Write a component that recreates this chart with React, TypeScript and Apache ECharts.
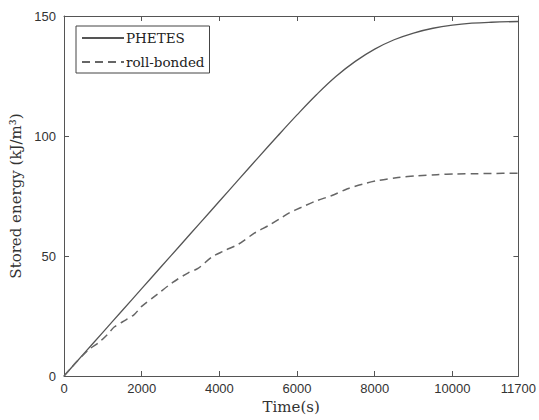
import React, { useEffect, useRef } from "react";
import * as echarts from "echarts";

const xTicks = [0, 2000, 4000, 6000, 8000, 10000, 11700];
const yTicks = [0, 50, 100, 150];

const phetesTime = [0, 500, 1000, 1500, 2000, 2500, 3000, 3500, 4000, 4500, 5000, 5500, 6000, 6500, 7000, 7500, 8000, 8500, 9000, 9500, 10000, 10500, 11000, 11700];
const phetesEnergy = [0, 9.1, 18.2, 27.3, 36.4, 45.5, 54.6, 63.7, 72.8, 81.9, 91, 100, 108.8, 117.2, 124.8, 131.1, 136.2, 140.1, 142.9, 144.9, 146.2, 147, 147.4, 147.7];

const rollTime = [0, 300, 640, 900, 1100, 1300, 1500, 1800, 2000, 2400, 2800, 3200, 3450, 3800, 4100, 4500, 4900, 5300, 5600, 5800, 6100, 6500, 6900, 7300, 7700, 8100, 8600, 9100, 9600, 10100, 10600, 11000, 11700];
const rollEnergy = [0, 5.5, 11, 14, 17, 20.5, 22.5, 25.5, 29, 34, 39, 43, 44.8, 49.5, 52, 55, 59.5, 63, 66, 68, 70.2, 73, 75.2, 78, 80, 81.5, 82.7, 83.4, 83.9, 84.2, 84.3, 84.4, 84.5];

const seriesNames = ["PHETES", "roll-bonded"];

export default function App() {
  const ref = useRef<HTMLDivElement>(null);
  useEffect(() => {
    if (!ref.current) return;
    const chart = echarts.init(ref.current, undefined, { renderer: "svg" });
    const axisColor = "#555";
    const tickLabel = {
      color: "#333",
      fontFamily: "Liberation Sans, Arial, sans-serif",
      fontSize: 13,
      formatter: (v: number) => String(v),
    };
    chart.setOption({
      animation: false,
      backgroundColor: "#fff",
      grid: { left: 64, right: 18, top: 16, bottom: 44 },
      legend: {
        left: 76,
        top: 26,
        orient: "vertical",
        borderColor: "#444",
        borderWidth: 1,
        padding: [5, 5, 4, 5],
        itemWidth: 42,
        itemHeight: 10,
        itemGap: 10,
        itemStyle: { opacity: 0 },
        textStyle: { fontFamily: "DejaVu Serif, serif", fontSize: 13.5, color: "#222", padding: [0, 0, 0, -3] },
        data: seriesNames,
      },
      xAxis: [
        {
          type: "value",
          min: 0,
          max: 11700,
          position: "bottom",
          name: "Time(s)",
          nameLocation: "middle",
          nameGap: 23,
          nameTextStyle: { fontFamily: "DejaVu Serif, serif", fontSize: 15, color: "#333" },
          axisLine: { show: true, lineStyle: { color: axisColor } },
          axisTick: { show: true, inside: true, length: 5, lineStyle: { color: axisColor }, customValues: xTicks },
          axisLabel: { ...tickLabel, margin: 6, customValues: xTicks },
          splitLine: { show: false },
        },
        {
          type: "value",
          min: 0,
          max: 11700,
          position: "top",
          axisLine: { show: true, onZero: false, lineStyle: { color: axisColor } },
          axisTick: { show: true, inside: true, length: 5, lineStyle: { color: axisColor }, customValues: xTicks },
          axisLabel: { show: false },
          splitLine: { show: false },
        },
      ],
      yAxis: [
        {
          type: "value",
          min: 0,
          max: 150,
          interval: 50,
          position: "left",
          name: "Stored energy (kJ/m³)",
          nameLocation: "middle",
          nameGap: 38,
          nameTextStyle: { fontFamily: "DejaVu Serif, serif", fontSize: 15, color: "#333" },
          axisLine: { show: true, lineStyle: { color: axisColor } },
          axisTick: { show: true, inside: true, length: 5, lineStyle: { color: axisColor }, customValues: yTicks },
          axisLabel: { ...tickLabel, margin: 8, customValues: yTicks },
          splitLine: { show: false },
        },
        {
          type: "value",
          min: 0,
          max: 150,
          interval: 50,
          position: "right",
          axisLine: { show: true, onZero: false, lineStyle: { color: axisColor } },
          axisTick: { show: true, inside: true, length: 5, lineStyle: { color: axisColor } },
          axisLabel: { show: false },
          splitLine: { show: false },
        },
      ],
      series: [
        {
          name: seriesNames[0],
          type: "line",
          data: phetesTime.map((t, i) => [t, phetesEnergy[i]]),
          smooth: 0.4,
          symbol: "none",
          lineStyle: { color: "#555", width: 1.3, type: "solid" },
          itemStyle: { color: "#555" },
        },
        {
          name: seriesNames[1],
          type: "line",
          data: rollTime.map((t, i) => [t, rollEnergy[i]]),
          smooth: 0.3,
          symbol: "none",
          lineStyle: { color: "#666", width: 1.5, type: [8, 5] },
          itemStyle: { color: "#666" },
        },
      ],
    });
    return () => chart.dispose();
  }, []);
  return <div ref={ref} style={{ width: 539, height: 420, position: "absolute", left: 0, top: 0 }} />;
}
